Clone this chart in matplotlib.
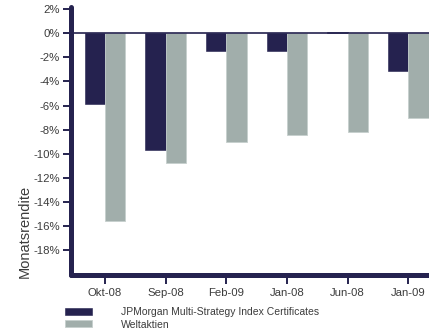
import matplotlib
matplotlib.use("Agg")
import matplotlib.pyplot as plt
import numpy as np

plt.rcParams['font.family'] = ['Liberation Sans', 'DejaVu Sans']

# monthly returns in percent
months = ['Okt-08', 'Sep-08', 'Feb-09', 'Jan-08', 'Jun-08', 'Jan-09']
jpm = [-5.9, -9.7, -1.45, -1.5, 0.1, -3.1]
welt = [-15.6, -10.75, -9.0, -8.4, -8.2, -7.0]
series_names = ['JPMorgan Multi-Strategy Index Certificates', 'Weltaktien']

navy = '#25224f'
grey = '#a1aeab'
text_col = '#3c3c3c'

fig = plt.figure(figsize=(4.29, 3.30), dpi=100)
ax = fig.add_axes([0.1655, 0.1667, 0.8345, 0.8127])

x = np.arange(len(months))
w = 0.335
b1 = ax.bar(x - w / 2, jpm, w, color=navy, edgecolor=navy, linewidth=0.4,
            label=series_names[0], zorder=2)
b2 = ax.bar(x + w / 2, welt, w, color=grey, edgecolor='#c6cfcd', linewidth=0.6,
            label=series_names[1], zorder=2)
ax.axhline(0, color=navy, lw=1.2, zorder=3)

ax.set_xlim(-0.56, 5.34)
ax.set_ylim(-20.06, 2.2)
ax.set_yticks(np.arange(-18, 3, 2))
ax.set_yticklabels([f'{v}%' for v in range(-18, 3, 2)])
ax.set_xticks(x)
ax.set_xticklabels(months)

for s in ['top', 'right']:
    ax.spines[s].set_visible(False)
for s in ['left', 'bottom']:
    ax.spines[s].set_color(navy)
    ax.spines[s].set_linewidth(3.6)
    ax.spines[s].set_capstyle('round')

ax.tick_params(axis='y', colors=navy, length=5.8, width=1.4, pad=2,
               labelsize=8.2, labelcolor=text_col)
ax.tick_params(axis='x', colors=navy, length=6.5, width=1.4, pad=3,
               labelsize=8.2, labelcolor=text_col)

fig.text(0.058, 0.30, 'Monatsrendite', rotation=90, fontsize=10.5,
         color=text_col, ha='center', va='center')

ax.legend(handles=[b1, b2], loc='upper left', bbox_to_anchor=(0.1515, 0.07),
          bbox_transform=fig.transFigure, frameon=False, fontsize=7.5,
          handlelength=2.6, handleheight=0.62, handletextpad=2.8,
          labelspacing=0.25, borderpad=0, borderaxespad=0, labelcolor=text_col)

fig.savefig('out.png', dpi=100)
